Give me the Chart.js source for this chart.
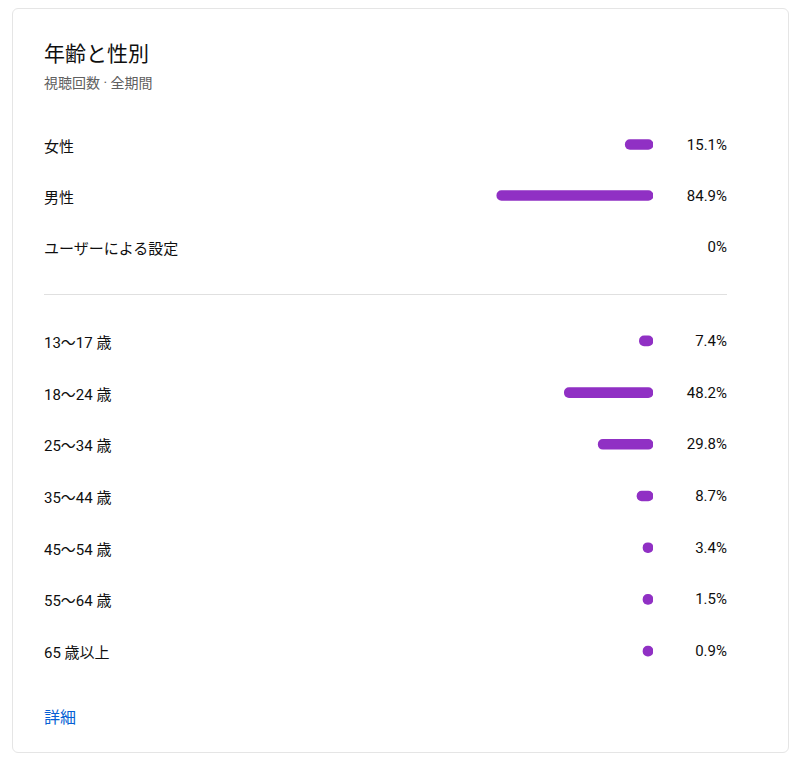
<!DOCTYPE html>
<html><head><meta charset="utf-8">
<script src="https://cdn.jsdelivr.net/npm/chart.js@4"></script>
<style>
body{margin:0;background:#fff;font-family:Roboto,"Noto Sans CJK JP",sans-serif;color:#0f0f0f}
#card{position:absolute;left:12px;top:8px;width:777px;height:745px;border:1px solid #e5e5e5;border-radius:6px;box-sizing:border-box}
.t{position:absolute;white-space:nowrap}
.lab{left:44px;font-size:15px;transform:translateY(-50%)}
.val{right:73px;font-size:15px;transform:translateY(-50%)}
canvas{position:absolute}
</style></head><body>
<div id="card"></div>
<div class="t" style="left:44px;top:37px;font-size:21px">年齢と性別</div>
<div class="t" style="left:44px;top:72px;font-size:14px;color:#606060">視聴回数 · 全期間</div>
<div class="t" style="left:44px;top:294px;width:683px;border-top:1px solid #e0e0e0"></div>
<div class="t" style="left:44px;top:704px;font-size:16px;color:#065fd4">詳細</div>
<div id="c1" style="position:absolute;left:469px;top:119px;width:184px;height:153px"><canvas id="g"></canvas></div>
<div id="c2" style="position:absolute;left:469px;top:315px;width:184px;height:362px"><canvas id="a"></canvas></div>
<div id="txt"></div>
<script>
const genderLabels=["女性","男性","ユーザーによる設定"];
const genderValues=[15.1,84.9,0];
const ageLabels=["13〜17 歳","18〜24 歳","25〜34 歳","35〜44 歳","45〜54 歳","55〜64 歳","65 歳以上"];
const ageValues=[7.4,48.2,29.8,8.7,3.4,1.5,0.9];
const fmt=v=>v===0?"0%":v.toFixed(1)+"%";
const txt=document.getElementById('txt');
function rows(labels,values,y0,step){
  labels.forEach((l,i)=>{
    const y=y0+i*step;
    txt.insertAdjacentHTML('beforeend',`<div class="t lab" style="top:${y}px">${l}</div><div class="t val" style="top:${y}px">${fmt(values[i])}</div>`);
  });
}
rows(genderLabels,genderValues,145,51);
rows(ageLabels,ageValues,341,51.67);
function mk(id,labels,values){
  new Chart(document.getElementById(id),{type:'bar',
    data:{labels,datasets:[{data:values,
      backgroundColor:c=>c.raw===0?'rgba(0,0,0,0)':'#9030c4',
      barThickness:10,borderRadius:5,borderSkipped:false,minBarLength:10}]},
    options:{indexAxis:'y',responsive:true,maintainAspectRatio:false,animation:false,
      layout:{padding:0},
      plugins:{legend:{display:false},tooltip:{enabled:false}},
      scales:{x:{display:false,reverse:true,min:0,max:100},y:{display:false}}}});
}
mk('g',genderLabels,genderValues);
mk('a',ageLabels,ageValues);
</script></body></html>
